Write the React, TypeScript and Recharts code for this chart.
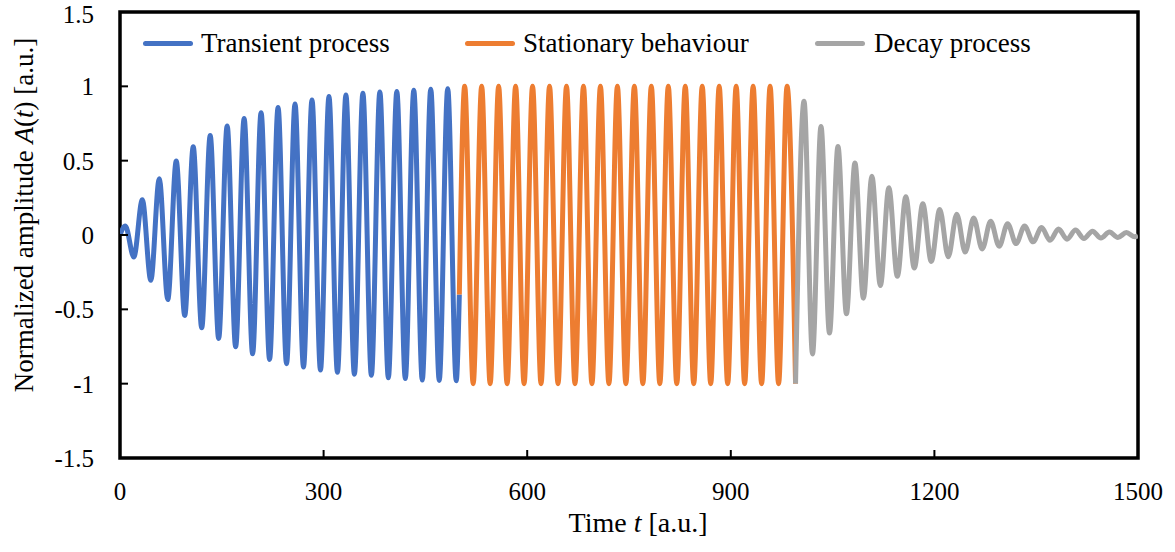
import React from 'react';
import { LineChart, Line, XAxis, YAxis, ReferenceArea, Legend } from 'recharts';

const FONT = '"Liberation Serif", "Times New Roman", Times, serif';

// Axis ticks
const X_TICKS = [0, 300, 600, 900, 1200, 1500];
const Y_TICKS = [-1.5, -1, -0.5, 0, 0.5, 1, 1.5];

// Extrema (peaks / troughs), every half period
const FIRST_EXTREMUM_T = 7.9;
const HALF_PERIOD_T = 12.5;

const TRANSIENT_START = { t: 0, a: 0 };
const SWITCH_POINT = { t: 500, a: -0.4 };
const TAIL_END = { t: 1500, a: -0.005 };

const transientExtrema = [
  0.06, -0.148, 0.237, -0.304, 0.378, -0.434, 0.497, -0.541, 0.593, -0.624,
  0.669, -0.696, 0.734, -0.752, 0.783, -0.799, 0.823, -0.837, 0.857, -0.866,
  0.882, -0.888, 0.908, -0.908, 0.931, -0.924, 0.942, -0.937, 0.953, -0.944,
  0.962, -0.96, 0.966, -0.966, 0.973, -0.975, 0.98, -0.978, 0.984, -0.98,
];

const stationaryExtrema = [
  1, -1, 1, -1, 1, -1, 1, -1, 1, -1,
  1, -1, 1, -1, 1, -1, 1, -1, 1, -1,
  1, -1, 1, -1, 1, -1, 1, -1, 1, -1,
  1, -1, 1, -1, 1, -1, 1, -1, 1, -1,
];

const decayExtrema = [
  0.9, -0.8, 0.73, -0.66, 0.595, -0.53, 0.485, -0.425, 0.395, -0.34,
  0.318, -0.278, 0.257, -0.222, 0.21, -0.178, 0.172, -0.146, 0.14, -0.115,
  0.114, -0.094, 0.092, -0.076, 0.076, -0.058, 0.06, -0.046, 0.05, -0.036,
  0.04, -0.028, 0.033, -0.024, 0.026, -0.02, 0.02, -0.016, 0.016, -0.012,
];

const SERIES_NAMES = ['Transient process', 'Stationary behaviour', 'Decay process'];
const SERIES_COLORS = ['#4472C4', '#ED7D31', '#A5A5A5'];

const toPoints = (values: number[], offset: number) =>
  values.map((a, i) => ({ t: FIRST_EXTREMUM_T + HALF_PERIOD_T * (i + offset), a }));

const transientData = [TRANSIENT_START, ...toPoints(transientExtrema, 0), SWITCH_POINT];
const stationaryPts = toPoints(stationaryExtrema, transientExtrema.length);
const stationaryData = [SWITCH_POINT, ...stationaryPts];
const decayData = [
  stationaryPts[stationaryPts.length - 1],
  ...toPoints(decayExtrema, transientExtrema.length + stationaryExtrema.length),
  TAIL_END,
];
const seriesData = [transientData, stationaryData, decayData];

// Legend layout (pixels)
const LEGEND_ITEMS = [
  { lineX: 143, textX: 201 },
  { lineX: 465, textX: 523 },
  { lineX: 815, textX: 874 },
];

const LegendContent = () => (
  <div style={{ position: 'relative', width: 0, height: 0 }}>
    {SERIES_NAMES.map((name, i) => (
      <React.Fragment key={name}>
        <div
          style={{
            position: 'absolute',
            left: LEGEND_ITEMS[i].lineX,
            top: 41,
            width: 50,
            height: 5,
            borderRadius: 2.5,
            background: SERIES_COLORS[i],
          }}
        />
        <div
          style={{
            position: 'absolute',
            left: LEGEND_ITEMS[i].textX,
            top: 28,
            whiteSpace: 'nowrap',
            fontFamily: FONT,
            fontSize: 27,
            lineHeight: '30px',
            color: '#000',
          }}
        >
          {name}
        </div>
      </React.Fragment>
    ))}
  </div>
);

const XTitle = () => (
  <text x={638} y={532} textAnchor="middle" fontFamily={FONT} fontSize={28} fill="#000">
    Time <tspan fontStyle="italic">t</tspan> [a.u.]
  </text>
);

const YTitle = () => (
  <text
    x={33}
    y={215}
    transform="rotate(-90, 33, 215)"
    textAnchor="middle"
    fontFamily={FONT}
    fontSize={27}
    fill="#000"
  >
    Normalized amplitude <tspan fontStyle="italic">A</tspan>(<tspan fontStyle="italic">t</tspan>) [a.u.]
  </text>
);

export default function App() {
  return (
    <div style={{ position: 'absolute', left: 0, top: 0, width: 1175, height: 552, background: '#fff' }}>
      <LineChart width={1175} height={552} margin={{ top: 12, right: 37, bottom: 34, left: 0 }}>
        <XAxis
          dataKey="t"
          type="number"
          domain={[0, 1500]}
          ticks={X_TICKS}
          allowDataOverflow
          axisLine={false}
          tickSize={-8}
          tickMargin={32}
          tickLine={{ stroke: '#000', strokeWidth: 2 }}
          tick={{ fontFamily: FONT, fontSize: 25, fill: '#000' }}
          height={60}
          label={<XTitle />}
        />
        <YAxis
          type="number"
          domain={[-1.5, 1.5]}
          ticks={Y_TICKS}
          allowDataOverflow
          axisLine={false}
          tickSize={-8}
          tickMargin={34}
          tickLine={{ stroke: '#000', strokeWidth: 2 }}
          tick={{ fontFamily: FONT, fontSize: 25, fill: '#000' }}
          width={120}
          label={<YTitle />}
        />
        <Legend
          content={<LegendContent />}
          wrapperStyle={{ position: 'absolute', top: 0, left: 0, width: 0, height: 0, overflow: 'visible' }}
        />
        {seriesData.map((d, i) => (
          <Line
            key={SERIES_NAMES[i]}
            data={d}
            dataKey="a"
            name={SERIES_NAMES[i]}
            type="monotone"
            stroke={SERIES_COLORS[i]}
            strokeWidth={5}
            strokeLinejoin="round"
            dot={false}
            activeDot={false}
            isAnimationActive={false}
          />
        ))}
        <ReferenceArea
          x1={0}
          x2={1500}
          y1={-1.5}
          y2={1.5}
          fill="none"
          fillOpacity={0}
          stroke="#000"
          strokeWidth={3.5}
          ifOverflow="visible"
        />
      </LineChart>
    </div>
  );
}
